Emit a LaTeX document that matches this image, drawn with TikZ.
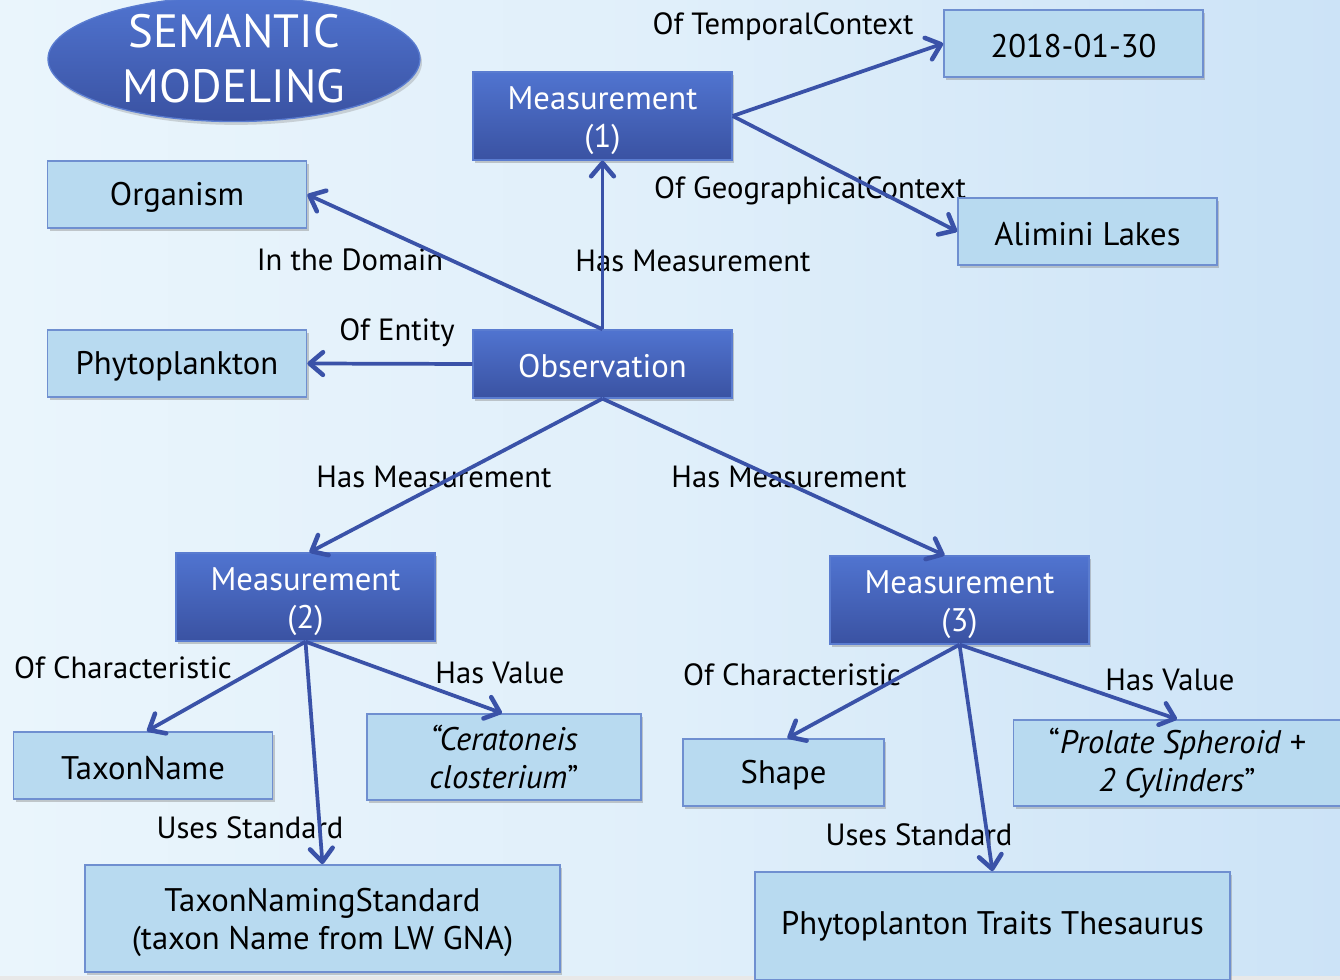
\documentclass[tikz,border=0pt]{standalone}
\usepackage{fontspec}
\setmainfont{PT Sans}
\usetikzlibrary{arrows.meta,shapes.geometric,shadows,calc}
\definecolor{bgA}{HTML}{EAF5FC}
\definecolor{bgM}{HTML}{E0EFFA}
\definecolor{bgB}{HTML}{CCE3F7}
\definecolor{darkTop}{HTML}{5074D0}
\definecolor{darkBot}{HTML}{3A52A2}
\definecolor{darkEdge}{HTML}{5A7CD0}
\definecolor{lightFill}{HTML}{B8DAF0}
\definecolor{lightEdge}{HTML}{6F8FD0}
\definecolor{arrowCol}{HTML}{3A52A8}
\tikzset{
  x=0.75pt, y=-0.75pt,
  txt/.style={font=\fontsize{24.5}{28.5}\selectfont, align=center, inner sep=0pt},
  darkbox/.style={txt, rectangle, text=white, top color=darkTop, bottom color=darkBot,
    draw=darkEdge, line width=1pt, minimum width=194.25pt, minimum height=66pt,
    drop shadow={shadow xshift=1.5pt, shadow yshift=-2.5pt, opacity=0.4}},
  lightbox/.style={txt, rectangle, text=black, fill=lightFill, draw=lightEdge, line width=1.3pt,
    minimum width=194.25pt, minimum height=50.25pt,
    drop shadow={shadow xshift=1.5pt, shadow yshift=-2.5pt, opacity=0.4}},
  lbl/.style={font=\fontsize{23}{27}\selectfont, align=center, inner sep=0pt, text=black},
  conn/.style={draw=arrowCol, line width=2.8pt, -{Straight Barb[length=10pt, width=17pt, line width=3.4pt, round]}},
}
\begin{document}
\begin{tikzpicture}
\useasboundingbox (0,0) rectangle (1340,980);
\shade[left color=bgA, right color=bgB, middle color=bgM] (0,0) rectangle (1340,980);
\fill[gray!18] (0,976) rectangle (1340,980);

% title
\node[ellipse, minimum width=279pt, minimum height=87pt, top color=darkTop, bottom color=darkBot,
  draw=darkEdge, line width=1pt, text=white, align=center, inner sep=0pt,
  font=\fontsize{35}{41}\selectfont,
  drop shadow={shadow xshift=1.5pt, shadow yshift=-2.5pt, opacity=0.3}] (title) at (234,59) {SEMANTIC\\MODELING};

% labels
\node[lbl] (l1) at (783,27) {Of TemporalContext};
\node[lbl] (l2) at (810,191) {Of GeographicalContext};
\node[lbl] (l3) at (350,260) {In the Domain};
\node[lbl] (l4) at (693,261) {Has Measurement};
\node[lbl] (l5) at (397,333) {Of Entity};
\node[lbl] (l6) at (434,477) {Has Measurement};
\node[lbl] (l7) at (789,477) {Has Measurement};
\node[lbl] (l8) at (123,668) {Of Characteristic};
\node[lbl] (l9) at (500,673) {Has Value};
\node[lbl] (l10) at (250,828) {Uses Standard};
\node[lbl] (l11) at (792,675) {Of Characteristic};
\node[lbl] (l12) at (1170,680) {Has Value};
\node[lbl] (l13) at (919,835) {Uses Standard};

% nodes
\node[darkbox] (m1) at (602.5,116) {\rule{0pt}{24pt}Measurement\\(1)};
\node[darkbox, minimum height=51pt] (obs) at (602.5,364) {\rule{0pt}{21pt}Observation};
\node[darkbox] (m2) at (305.5,597) {\rule{0pt}{24pt}Measurement\\(2)};
\node[darkbox] (m3) at (959.5,600) {\rule{0pt}{24pt}Measurement\\(3)};
\node[lightbox] (date) at (1073.5,43.5) {\rule{0pt}{21pt}2018-01-30};
\node[lightbox] (lake) at (1087.5,231.5) {\rule{0pt}{21pt}Alimini Lakes};
\node[lightbox] (org) at (177,194.5) {\rule{0pt}{21pt}Organism};
\node[lightbox] (phy) at (177,363.5) {\rule{0pt}{21pt}Phytoplankton};
\node[lightbox] (tax) at (143,765.5) {\rule{0pt}{21pt}TaxonName};
\node[lightbox, minimum width=205.5pt, minimum height=64.5pt] (cer) at (504,757) {\textit{“Ceratoneis}\\\textit{closterium}”};
\node[lightbox, minimum width=150.75pt] (shp) at (783.5,772.5) {\rule{0pt}{21pt}Shape};
\node[lightbox, minimum width=245.25pt, minimum height=64.5pt] (pro) at (1177,763) {“\textit{Prolate Spheroid +}\\\textit{2 Cylinders}”};
\node[lightbox, minimum width=356.25pt, minimum height=80.25pt] (tns) at (322.5,918.5) {\rule{0pt}{24pt}TaxonNamingStandard\\(taxon Name from LW GNA)};
\node[lightbox, minimum width=356.25pt, minimum height=81pt] (ths) at (992.5,926) {Phytoplanton Traits Thesaurus};

% connectors
\draw[conn] (obs.north) -- (m1.south);
\draw[conn] (obs.north) -- (org.east);
\draw[conn] (obs.west) -- (phy.east);
\draw[conn] (m1.east) -- (date.west);
\draw[conn] (m1.east) -- (lake.west);
\draw[conn] (obs.south) -- ($(m2.north)+(4,0)$);
\draw[conn] (obs.south) -- ($(m3.north)+(-15,0)$);
\draw[conn] (m2.south) -- ($(tax.north)+(4,0)$);
\draw[conn] (m2.south) -- ($(cer.north)+(-2,0)$);
\draw[conn] (m2.south) -- (tns.north);
\draw[conn] (m3.south) -- ($(shp.north)+(4,0)$);
\draw[conn] (m3.south) -- (pro.north);
\draw[conn] (m3.south) -- (ths.north);
\end{tikzpicture}
\end{document}
